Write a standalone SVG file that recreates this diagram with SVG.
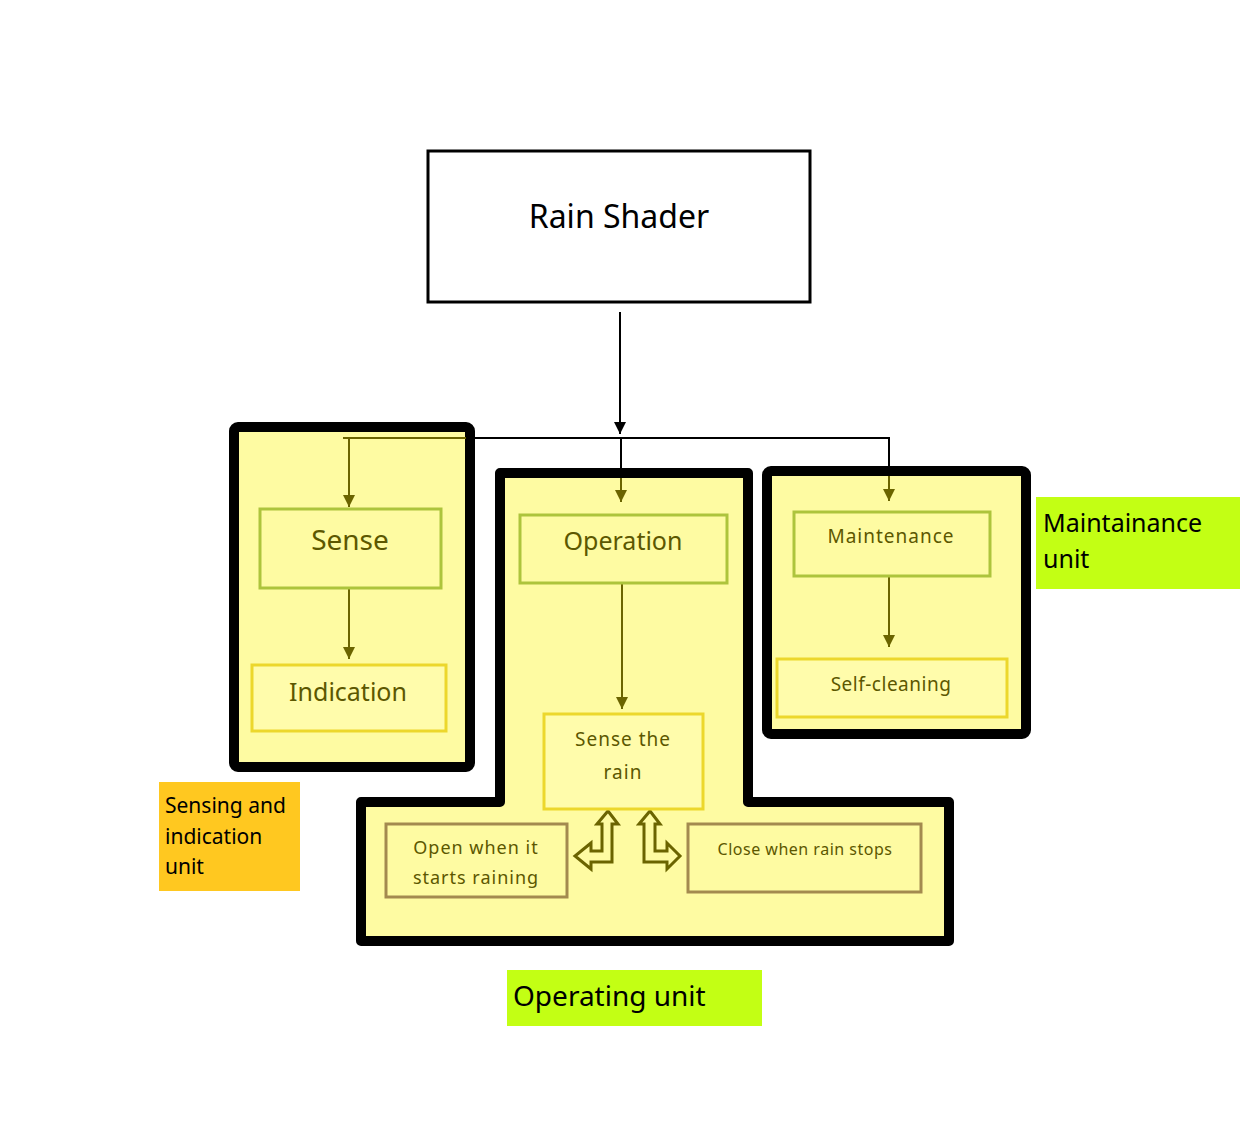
<svg xmlns="http://www.w3.org/2000/svg" width="1240" height="1123" viewBox="0 0 1240 1123">
<defs>
<marker id="ab" markerUnits="userSpaceOnUse" markerWidth="14" markerHeight="14" refX="12" refY="6" orient="auto"><path d="M0,0 L12,6 L0,12 z" fill="#000"/></marker>
<marker id="ao" markerUnits="userSpaceOnUse" markerWidth="14" markerHeight="14" refX="12" refY="6" orient="auto"><path d="M0,0 L12,6 L0,12 z" fill="#6b6400"/></marker>
<style>
.unit{fill:#fefba2;stroke:#000;stroke-width:10;stroke-linejoin:round}
.n{fill:#fefba2;stroke-width:3}
.g{stroke:#adc43c}
.y{stroke:#ecd72c;fill:#fffcab}
.t{stroke:#a38a4f}
.lbl{font-family:"Noto Sans","Open Sans",sans-serif;fill:#5c5700;text-anchor:middle}
.cb{stroke:#000;stroke-width:2;fill:none}
.co{stroke:#6b6400;stroke-width:2;fill:none}
.cap{font-family:"Noto Sans","Open Sans",sans-serif;fill:#000}
.bend{fill:#fefba2;stroke:#6b6400;stroke-width:3;stroke-linejoin:miter}
</style>
</defs>
<rect width="1240" height="1123" fill="#fff"/>

<g id="unit-sensing">
<rect class="unit" x="234" y="427" width="236" height="340" rx="4"/>
</g>
<g id="unit-operating">
<path class="unit" d="M500,473 L748,473 L748,802 L949,802 L949,941 L361,941 L361,802 L500,802 Z"/>
</g>
<g id="unit-maintenance">
<rect class="unit" x="767" y="471" width="259" height="263" rx="4"/>
</g>

<g id="rain-shader">
<rect x="428" y="151" width="382" height="151" fill="#fff" stroke="#000" stroke-width="3"/>
<text class="cap" x="619" y="228" font-size="32" text-anchor="middle">Rain Shader</text>
</g>

<g id="connectors">
<line class="cb" x1="620" y1="312" x2="620" y2="434" marker-end="url(#ab)"/>
<line class="co" x1="343" y1="438" x2="466" y2="438"/>
<line class="cb" x1="466" y1="438" x2="890" y2="438"/>
<line class="co" x1="349" y1="438" x2="349" y2="507" marker-end="url(#ao)"/>
<line class="cb" x1="621" y1="438" x2="621" y2="478"/>
<line class="co" x1="621" y1="478" x2="621" y2="502" marker-end="url(#ao)"/>
<line class="cb" x1="889" y1="438" x2="889" y2="476"/>
<line class="co" x1="889" y1="476" x2="889" y2="501" marker-end="url(#ao)"/>
<line class="co" x1="349" y1="588" x2="349" y2="659" marker-end="url(#ao)"/>
<line class="co" x1="622" y1="583" x2="622" y2="709" marker-end="url(#ao)"/>
<line class="co" x1="889" y1="576" x2="889" y2="647" marker-end="url(#ao)"/>
<path class="bend" d="M608,811 L618,824 L612,824 L612,862 L591,862 L591,869 L575,856 L591,843 L591,851 L602,851 L602,824 L597,824 Z"/>
<path class="bend" d="M650,811 L660,824 L655,824 L655,851 L667,851 L667,843 L680,856 L667,869 L667,862 L644,862 L644,824 L639,824 Z"/>
</g>

<g id="sense">
<rect class="n g" x="260" y="509" width="181" height="79"/>
<text class="lbl" x="350" y="550" font-size="28">Sense</text>
</g>
<g id="indication">
<rect class="n y" x="252" y="665" width="194" height="66"/>
<text class="lbl" x="348" y="701" font-size="25">Indication</text>
</g>
<g id="operation">
<rect class="n g" x="520" y="515" width="207" height="68"/>
<text class="lbl" x="623" y="550" font-size="25">Operation</text>
</g>
<g id="sense-the-rain">
<rect class="n y" x="544" y="714" width="159" height="95"/>
<text class="lbl" x="623" y="746" font-size="19" letter-spacing="1">Sense the</text>
<text class="lbl" x="623" y="779" font-size="19" letter-spacing="1">rain</text>
</g>
<g id="open-when-raining">
<rect class="n t" x="386" y="824" width="181" height="73"/>
<text class="lbl" x="476" y="854" font-size="18" letter-spacing="1">Open when it</text>
<text class="lbl" x="476" y="884" font-size="18" letter-spacing="1">starts raining</text>
</g>
<g id="close-when-stops">
<rect class="n t" x="688" y="824" width="233" height="68"/>
<text class="lbl" x="805" y="855" font-size="16" letter-spacing="0.5">Close when rain stops</text>
</g>
<g id="maintenance">
<rect class="n g" x="794" y="512" width="196" height="64"/>
<text class="lbl" x="891" y="543" font-size="19" letter-spacing="1">Maintenance</text>
</g>
<g id="self-cleaning">
<rect class="n y" x="777" y="659" width="230" height="58"/>
<text class="lbl" x="891" y="691" font-size="19" letter-spacing="0.5">Self-cleaning</text>
</g>

<g id="label-maintainance-unit">
<rect x="1036" y="497" width="204" height="92" fill="#c3ff14"/>
<text class="cap" x="1043" y="532" font-size="25">Maintainance</text>
<text class="cap" x="1043" y="568" font-size="25">unit</text>
</g>
<g id="label-sensing-unit">
<rect x="159" y="782" width="141" height="109" fill="#ffc820"/>
<text class="cap" x="165" y="813" font-size="21">Sensing and</text>
<text class="cap" x="165" y="844" font-size="21">indication</text>
<text class="cap" x="165" y="874" font-size="21">unit</text>
</g>
<g id="label-operating-unit">
<rect x="507" y="970" width="255" height="56" fill="#c3ff14"/>
<text class="cap" x="513" y="1006" font-size="28">Operating unit</text>
</g>
</svg>
